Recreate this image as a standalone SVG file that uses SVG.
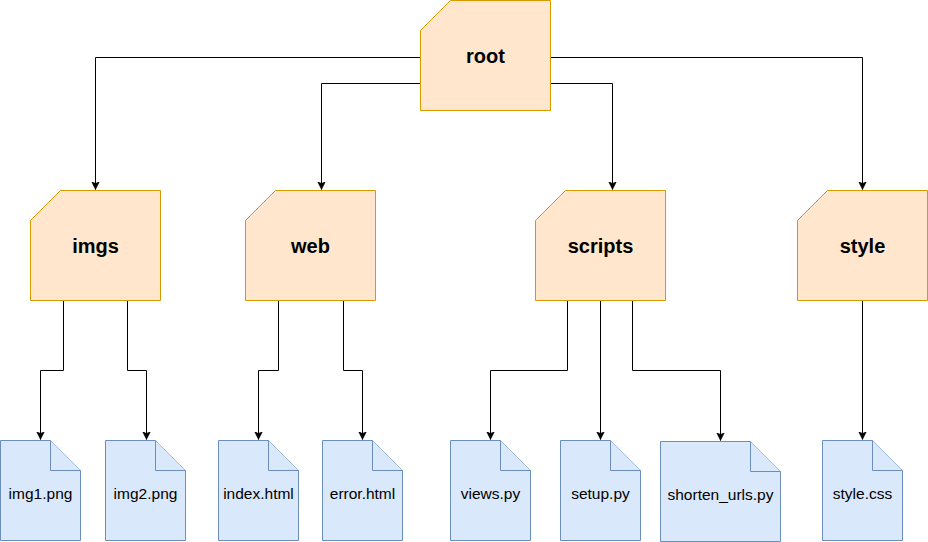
<svg xmlns="http://www.w3.org/2000/svg" width="928" height="542" viewBox="0 0 928 542">
<style>
.folder{fill:#ffe6cc;stroke:#d79b00;stroke-width:1}
.file{fill:#dae8fc;stroke:#6c8ebf;stroke-width:1}
.ft{font-family:"Liberation Sans",Arial,sans-serif;font-weight:bold;font-size:20px;text-anchor:middle;fill:#000}
.fl{font-family:"Liberation Sans",Arial,sans-serif;font-size:15.5px;text-anchor:middle;fill:#000}
.c{fill:none;stroke:#000;stroke-width:1}
</style>
<defs>
<marker id="arr" markerUnits="userSpaceOnUse" markerWidth="10" markerHeight="10" refX="8" refY="4" orient="auto" viewBox="0 0 10 8">
<path d="M0,0 L8,4 L0,8 L2,4 Z" fill="#000" stroke="#000" stroke-width="0.5"/>
</marker>
</defs>
<g id="connectors">
<path class="c" d="M420.5,57.5 H95.5 V189.5" marker-end="url(#arr)"/>
<path class="c" d="M420.5,83.5 H321.5 V189.5" marker-end="url(#arr)"/>
<path class="c" d="M550.5,83.5 H612.5 V189.5" marker-end="url(#arr)"/>
<path class="c" d="M550.5,57.5 H862.5 V189.5" marker-end="url(#arr)"/>
<path class="c" d="M63.5,300.5 V370.5 H40.5 V439.5" marker-end="url(#arr)"/>
<path class="c" d="M127.5,300.5 V370.5 H146.5 V439.5" marker-end="url(#arr)"/>
<path class="c" d="M278.5,300.5 V370.5 H258.5 V439.5" marker-end="url(#arr)"/>
<path class="c" d="M343.5,300.5 V370.5 H362.5 V439.5" marker-end="url(#arr)"/>
<path class="c" d="M567.5,300.5 V370.5 H490.5 V439.5" marker-end="url(#arr)"/>
<path class="c" d="M600.5,300.5 V439.5" marker-end="url(#arr)"/>
<path class="c" d="M632.5,300.5 V370.5 H720.5 V440.5" marker-end="url(#arr)"/>
<path class="c" d="M862.5,300.5 V439.5" marker-end="url(#arr)"/>
</g>
<g id="root">
<path class="folder" d="M450.5,0.5 H550.5 V110.5 H420.5 V30.5 Z"/>
<text class="ft" x="485.5" y="63">root</text>
</g>
<g id="imgs">
<path class="folder" d="M60.5,190.5 H160.5 V300.5 H30.5 V220.5 Z"/>
<text class="ft" x="95.5" y="253">imgs</text>
</g>
<g id="web">
<path class="folder" d="M275.5,190.5 H375.5 V300.5 H245.5 V220.5 Z"/>
<text class="ft" x="310.5" y="253">web</text>
</g>
<g id="scripts">
<path class="folder" d="M565.5,190.5 H665.5 V300.5 H535.5 V220.5 Z"/>
<text class="ft" x="600.5" y="253">scripts</text>
</g>
<g id="style">
<path class="folder" d="M827.5,190.5 H927.5 V300.5 H797.5 V220.5 Z"/>
<text class="ft" x="862.5" y="253">style</text>
</g>
<g id="img1">
<path class="file" d="M0.5,440.5 H50.5 L80.5,470.5 V540.5 H0.5 Z"/>
<path class="file" d="M50.5,440.5 V470.5 H80.5"/>
<text class="fl" x="40.5" y="499">img1.png</text>
</g>
<g id="img2">
<path class="file" d="M105.5,440.5 H155.5 L185.5,470.5 V540.5 H105.5 Z"/>
<path class="file" d="M155.5,440.5 V470.5 H185.5"/>
<text class="fl" x="145.5" y="499">img2.png</text>
</g>
<g id="index">
<path class="file" d="M218.5,440.5 H268.5 L298.5,470.5 V540.5 H218.5 Z"/>
<path class="file" d="M268.5,440.5 V470.5 H298.5"/>
<text class="fl" x="258.5" y="499">index.html</text>
</g>
<g id="error">
<path class="file" d="M322.5,440.5 H372.5 L402.5,470.5 V540.5 H322.5 Z"/>
<path class="file" d="M372.5,440.5 V470.5 H402.5"/>
<text class="fl" x="362.5" y="499">error.html</text>
</g>
<g id="views">
<path class="file" d="M450.5,440.5 H500.5 L530.5,470.5 V540.5 H450.5 Z"/>
<path class="file" d="M500.5,440.5 V470.5 H530.5"/>
<text class="fl" x="490.5" y="499">views.py</text>
</g>
<g id="setup">
<path class="file" d="M560.5,440.5 H610.5 L640.5,470.5 V540.5 H560.5 Z"/>
<path class="file" d="M610.5,440.5 V470.5 H640.5"/>
<text class="fl" x="600.5" y="499">setup.py</text>
</g>
<g id="shorten">
<path class="file" d="M660.5,441.5 H750.5 L780.5,471.5 V541.5 H660.5 Z"/>
<path class="file" d="M750.5,441.5 V471.5 H780.5"/>
<text class="fl" x="720.5" y="500">shorten_urls.py</text>
</g>
<g id="stylecss">
<path class="file" d="M822.5,440.5 H872.5 L902.5,470.5 V540.5 H822.5 Z"/>
<path class="file" d="M872.5,440.5 V470.5 H902.5"/>
<text class="fl" x="862.5" y="499">style.css</text>
</g>
</svg>
